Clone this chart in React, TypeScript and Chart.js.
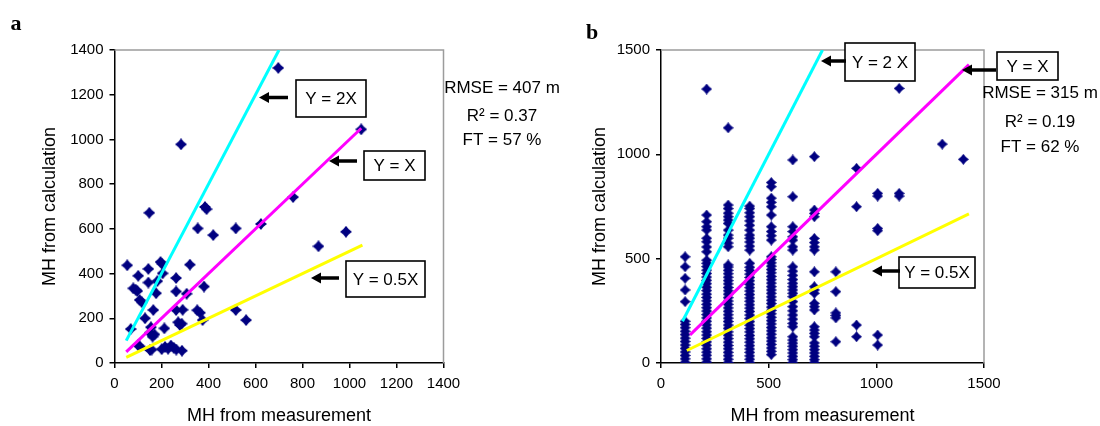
import React, { useEffect, useRef } from "react";
import { Chart, registerables } from "chart.js";
Chart.register(...registerables);

// ---------- Panel a data ----------
const aMeasured = [54, 69, 101, 80, 90, 97, 107, 116, 144, 148, 144, 130, 100, 108, 151, 158, 150, 155, 162, 170, 165, 177, 196, 202, 205, 182, 212, 201, 215, 228, 240, 252, 263, 262, 262, 262, 271, 278, 286, 290, 287, 283, 307, 321, 354, 352, 364, 381, 385, 392, 420, 375, 516, 516, 560, 623, 760, 697, 868, 985, 1050];
const aCalculated = [437, 152, 390, 334, 328, 322, 282, 272, 421, 672, 360, 200, 80, 74, 58, 60, 135, 160, 118, 128, 237, 312, 452, 444, 401, 366, 155, 62, 72, 64, 78, 68, 60, 380, 320, 237, 182, 170, 176, 238, 55, 978, 310, 440, 602, 236, 225, 342, 698, 688, 572, 192, 602, 237, 192, 622, 742, 1320, 522, 587, 1045];
const aLine2X = [50, 700];
const aLine2Y = [100, 1400];
const aLine1X = [50, 1050];
const aLine1Y = [50, 1050];
const aLine05X = [50, 1055];
const aLine05Y = [25, 527];

// ---------- Panel b data (columns of measured values) ----------
const bColumnX = [112, 212, 312, 412, 512, 612, 712, 812, 908, 1006, 1106, 1306, 1404];
const bColumnY = [
  [3, 20, 36, 53, 70, 86, 103, 119, 136, 152, 169, 185, 200, 294, 350, 406, 461, 509],
  [4, 20, 37, 52, 68, 85, 101, 118, 134, 150, 167, 183, 200, 216, 232, 249, 265, 281, 298, 314, 330, 347, 363, 380, 396, 412, 429, 445, 462, 478, 493, 533, 556, 581, 598, 637, 653, 677, 709, 1313],
  [2, 18, 35, 51, 68, 84, 100, 117, 133, 149, 166, 182, 199, 215, 231, 248, 264, 281, 297, 313, 330, 346, 362, 379, 395, 411, 428, 444, 460, 470, 557, 575, 598, 613, 637, 669, 685, 701, 718, 740, 757, 1127],
  [2, 18, 34, 51, 67, 83, 100, 116, 132, 149, 165, 181, 198, 214, 230, 247, 263, 279, 296, 312, 328, 345, 361, 377, 394, 410, 426, 443, 459, 478, 541, 560, 580, 598, 613, 637, 660, 681, 701, 720, 740, 752],
  [40, 56, 72, 89, 105, 121, 138, 154, 170, 187, 203, 219, 236, 252, 268, 285, 301, 317, 334, 350, 366, 383, 399, 415, 432, 448, 464, 480, 496, 509, 589, 610, 630, 653, 709, 749, 770, 790, 845, 865],
  [2, 16, 32, 48, 64, 80, 95, 110, 126, 174, 190, 210, 230, 250, 270, 294, 318, 334, 350, 366, 382, 400, 420, 440, 461, 541, 557, 589, 605, 630, 653, 797, 973],
  [2, 16, 32, 48, 64, 80, 96, 126, 142, 158, 174, 254, 270, 286, 334, 350, 366, 437, 541, 557, 577, 597, 701, 717, 733, 989],
  [102, 216, 228, 240, 342, 437],
  [126, 182, 749, 933],
  [86, 134, 634, 645, 800, 813],
  [800, 813, 1316],
  [1049],
  [976],
];
const bLine2X = [100, 750];
const bLine2Y = [200, 1500];
const bLine1X = [135, 1430];
const bLine1Y = [135, 1430];
const bLine05X = [120, 1430];
const bLine05Y = [60, 715];

// ---------- Annotation texts ----------
const aStats = ["RMSE = 407 m", "R\u00b2 = 0.37", "FT = 57 %"];
const bStats = ["RMSE = 315 m", "R\u00b2 = 0.19", "FT = 62 %"];
const aBoxLabels = ["Y = 2X", "Y = X", "Y = 0.5X"];
const bBoxLabels = ["Y = 2 X", "Y = X", "Y = 0.5X"];

const FONT = "'Liberation Sans', Arial, sans-serif";

function makeStar(size: number, color: string) {
  const c = document.createElement("canvas");
  c.width = size;
  c.height = size;
  const g = c.getContext("2d")!;
  const r = size / 2;
  const k = r * 0.44;
  g.fillStyle = color;
  g.beginPath();
  g.moveTo(r, 0);
  g.lineTo(r + k, r - k);
  g.lineTo(size, r);
  g.lineTo(r + k, r + k);
  g.lineTo(r, size);
  g.lineTo(r - k, r + k);
  g.lineTo(0, r);
  g.lineTo(r - k, r - k);
  g.closePath();
  g.fill();
  return c;
}

function toPts(xs: number[], ys: number[]) {
  return xs.map((x, i) => ({ x, y: ys[i] }));
}

type Spec = {
  letter: { text: string; x: number; y: number };
  boxes: { text: string; x1: number; y1: number; x2: number; y2: number }[];
  arrows: { x1: number; x2: number; y: number }[];
  stats: { cx: number; ys: number[]; lines: string[] };
};

function annotPlugin(spec: Spec) {
  return {
    id: "annot",
    beforeDatasetsDraw(chart: any) {
      const { ctx, chartArea } = chart;
      const { left, top, right, bottom } = chartArea;
      ctx.save();
      ctx.strokeStyle = "#9c9c9c";
      ctx.lineWidth = 1.5;
      ctx.beginPath();
      ctx.moveTo(left, top);
      ctx.lineTo(right, top);
      ctx.lineTo(right, bottom);
      ctx.stroke();
      ctx.restore();
    },
    afterDraw(chart: any) {
      const ctx = chart.ctx as CanvasRenderingContext2D;
      ctx.save();
      ctx.fillStyle = "#000";
      ctx.font = "bold 22px 'Liberation Serif', 'Times New Roman', serif";
      ctx.textAlign = "center";
      ctx.textBaseline = "middle";
      ctx.fillText(spec.letter.text, spec.letter.x, spec.letter.y);
      ctx.font = `17px ${FONT}`;
      for (const b of spec.boxes) {
        ctx.fillStyle = "#fff";
        ctx.fillRect(b.x1, b.y1, b.x2 - b.x1, b.y2 - b.y1);
        ctx.strokeStyle = "#000";
        ctx.lineWidth = 1.6;
        ctx.strokeRect(b.x1, b.y1, b.x2 - b.x1, b.y2 - b.y1);
        ctx.fillStyle = "#000";
        ctx.fillText(b.text, (b.x1 + b.x2) / 2, (b.y1 + b.y2) / 2 + 1);
      }
      for (const a of spec.arrows) {
        ctx.strokeStyle = "#000";
        ctx.fillStyle = "#000";
        ctx.lineWidth = 3.5;
        ctx.beginPath();
        ctx.moveTo(a.x1, a.y);
        ctx.lineTo(a.x2 + 8, a.y);
        ctx.stroke();
        ctx.beginPath();
        ctx.moveTo(a.x2, a.y);
        ctx.lineTo(a.x2 + 10, a.y - 5.5);
        ctx.lineTo(a.x2 + 10, a.y + 5.5);
        ctx.closePath();
        ctx.fill();
      }
      ctx.fillStyle = "#000";
      ctx.font = `17px ${FONT}`;
      spec.stats.lines.forEach((t, i) => {
        ctx.fillText(t, spec.stats.cx, spec.stats.ys[i]);
      });
      ctx.restore();
    },
  };
}

function axisCommon(min: number, max: number, step: number, title: string, isX: boolean) {
  return {
    type: "linear" as const,
    min,
    max,
    ticks: {
      stepSize: step,
      color: "#000",
      font: { size: 15, family: FONT },
      padding: isX ? 7 : 6,
      callback: (v: any) => String(v),
    },
    grid: {
      drawOnChartArea: false,
      drawTicks: true,
      tickLength: 5,
      color: "#000",
      lineWidth: 1.5,
    },
    border: { display: true, color: "#000", width: 1.5 },
    title: {
      display: true,
      text: title,
      color: "#000",
      font: { size: 18, family: FONT, lineHeight: 1.1 },
      padding: isX ? { top: 0, bottom: 0 } : { top: 40, bottom: 0 },
    },
  };
}

function lineDs(xs: number[], ys: number[], color: string) {
  return {
    data: toPts(xs, ys),
    showLine: true,
    borderColor: color,
    borderWidth: 3,
    pointRadius: 0,
    fill: false,
  };
}

function buildConfig(opts: {
  lines: any[];
  points: { x: number; y: number }[];
  star: HTMLCanvasElement;
  max: number;
  step: number;
  padLeft: number;
  padRight: number;
  yWidth: number;
  spec: Spec;
}) {
  return {
    type: "scatter" as const,
    data: {
      datasets: [
        ...opts.lines,
        {
          data: opts.points,
          pointStyle: opts.star,
          pointRadius: 6,
          backgroundColor: "#000080",
          borderColor: "#000080",
          showLine: false,
        },
      ],
    },
    options: {
      responsive: false,
      animation: false as const,
      events: [],
      layout: { padding: { left: opts.padLeft, right: opts.padRight, top: 50, bottom: 0 } },
      plugins: { legend: { display: false }, tooltip: { enabled: false } },
      scales: {
        x: {
          ...axisCommon(0, opts.max, opts.step, "MH from measurement", true),
          afterFit: (s: any) => {
            s.height = 63;
          },
        },
        y: {
          ...axisCommon(0, opts.max, opts.step, "MH from calculation", false),
          afterFit: (s: any) => {
            s.width = opts.yWidth;
          },
        },
      },
    },
    plugins: [annotPlugin(opts.spec)],
  };
}

export default function App() {
  const refA = useRef<HTMLCanvasElement>(null);
  const refB = useRef<HTMLCanvasElement>(null);

  useEffect(() => {
    Chart.defaults.font.family = FONT;
    const starA = makeStar(12, "#000080");
    const starB = makeStar(11, "#000080");

    const specA: Spec = {
      letter: { text: "a", x: 16, y: 24 },
      boxes: [
        { text: aBoxLabels[0], x1: 296, y1: 80, x2: 366, y2: 117 },
        { text: aBoxLabels[1], x1: 364, y1: 151, x2: 425, y2: 180 },
        { text: aBoxLabels[2], x1: 346, y1: 261, x2: 425, y2: 297 },
      ],
      arrows: [
        { x1: 288, x2: 259, y: 97.5 },
        { x1: 357, x2: 329, y: 161 },
        { x1: 339, x2: 311, y: 278 },
      ],
      stats: { cx: 502, ys: [88, 116, 140], lines: aStats },
    };
    const specB: Spec = {
      letter: { text: "b", x: 592, y: 33 },
      boxes: [
        { text: bBoxLabels[0], x1: 845, y1: 43, x2: 915, y2: 81 },
        { text: bBoxLabels[1], x1: 997, y1: 52, x2: 1058, y2: 80 },
        { text: bBoxLabels[2], x1: 899, y1: 257, x2: 975, y2: 288 },
      ],
      arrows: [
        { x1: 846, x2: 821, y: 61 },
        { x1: 996, x2: 962, y: 70 },
        { x1: 900, x2: 872, y: 271 },
      ],
      stats: { cx: 1040, ys: [93, 122, 147], lines: bStats },
    };

    const bPoints: { x: number; y: number }[] = [];
    bColumnX.forEach((x, i) => bColumnY[i].forEach((y) => bPoints.push({ x, y })));

    const chartA = new Chart(
      refA.current!,
      buildConfig({
        lines: [
          lineDs(aLine2X, aLine2Y, "#00ffff"),
          lineDs(aLine1X, aLine1Y, "#ff00ff"),
          lineDs(aLine05X, aLine05Y, "#ffff00"),
        ],
        points: toPts(aMeasured, aCalculated),
        star: starA,
        max: 1400,
        step: 200,
        padLeft: 0,
        padRight: 1100 - 443.5,
        yWidth: 114.5,
        spec: specA,
      }) as any
    );
    const chartB = new Chart(
      refB.current!,
      buildConfig({
        lines: [
          lineDs(bLine2X, bLine2Y, "#00ffff"),
          lineDs(bLine1X, bLine1Y, "#ff00ff"),
          lineDs(bLine05X, bLine05Y, "#ffff00"),
        ],
        points: bPoints,
        star: starB,
        max: 1500,
        step: 500,
        padLeft: 550,
        padRight: 1100 - 984,
        yWidth: 111,
        spec: specB,
      }) as any
    );
    return () => {
      chartA.destroy();
      chartB.destroy();
    };
  }, []);

  return (
    <div style={{ position: "fixed", left: 0, top: 0, width: 1100, height: 426, background: "#fff" }}>
      <canvas ref={refA} width={1100} height={426} style={{ position: "absolute", left: 0, top: 0, width: 1100, height: 426 }} />
      <canvas ref={refB} width={1100} height={426} style={{ position: "absolute", left: 0, top: 0, width: 1100, height: 426 }} />
    </div>
  );
}
